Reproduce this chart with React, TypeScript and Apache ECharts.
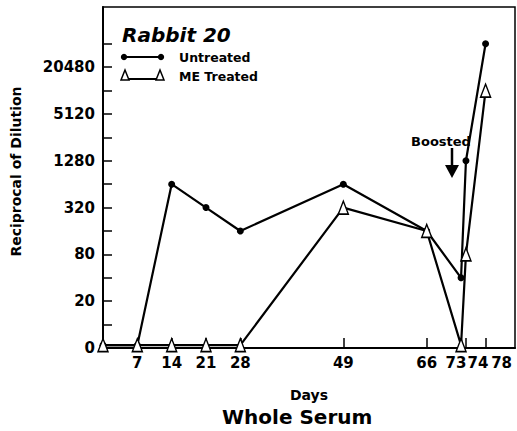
import React, { useEffect, useRef } from "react";
import * as echarts from "echarts";

const days = [0, 7, 14, 21, 28, 49, 66, 73, 74, 78];
const untreated = [0, 0, 640, 320, 160, 640, 160, 40, 1280, 40960];
const meTreated = [0, 0, 0, 0, 0, 320, 160, 0, 80, 10240];
const xTickDays = [7, 14, 21, 28, 49, 66, 73, 74, 78];
const yTickLabels = ["0", "20", "80", "320", "1280", "5120", "20480"];

const FONT = "DejaVu Sans";
// log2 scale relative to 5 (the "0" baseline)
const yPos = (v: number) => (v <= 0 ? 0.12 : Math.log2(v / 5));

export default function App() {
  const ref = useRef<HTMLDivElement>(null);
  useEffect(() => {
    if (!ref.current) return;
    const chart = echarts.init(ref.current, undefined, { renderer: "svg" });
    const labelIdx = yTickLabels.map((_, i) => i * 2);
    const lblFont = { fontFamily: FONT, fontWeight: "bold", fontSize: 15, color: "#000" };
    chart.setOption({
      animation: false,
      backgroundColor: "#fff",
      title: {
        text: "Whole Serum",
        left: 222,
        top: 407,
        padding: 0,
        textStyle: { fontFamily: FONT, fontWeight: "bold", fontSize: 20, color: "#000" },
      },
      grid: {
        left: 103,
        right: 2,
        top: 7,
        bottom: 83,
        show: true,
        borderColor: "#000",
        borderWidth: 1.5,
        backgroundColor: "transparent",
        outerBoundsMode: "none",
      },
      xAxis: {
        type: "value",
        min: 0,
        max: 84,
        name: "Days",
        nameLocation: "middle",
        nameGap: 40,
        nameTextStyle: { fontFamily: FONT, fontWeight: "bold", fontSize: 14, color: "#000" },
        splitLine: { show: false },
        axisLine: { lineStyle: { color: "#000", width: 2 } },
        axisTick: {
          inside: true,
          length: 10,
          customValues: xTickDays,
          lineStyle: { color: "#000", width: 1.5 },
        },
        axisLabel: {
          customValues: xTickDays,
          hideOverlap: false,
          margin: 7,
          ...lblFont,
          formatter: (v: number) =>
            v === 73 ? "{a|73}" : v === 74 ? "{b|74}" : v === 78 ? "{c|78}" : String(v),
          rich: {
            a: { ...lblFont, padding: [0, 10, 0, 0] },
            b: { ...lblFont, padding: [0, 0, 0, 24] },
            c: { ...lblFont, padding: [0, 0, 0, 32] },
          },
        },
      },
      yAxis: {
        type: "value",
        min: 0,
        max: 14.57,
        name: "Reciprocal of Dilution",
        nameLocation: "middle",
        nameRotate: 90,
        nameGap: 80,
        nameTextStyle: { fontFamily: FONT, fontWeight: "bold", fontSize: 14, color: "#000", padding: [0, 0, 0, 12] },
        splitLine: { show: false },
        axisLine: { lineStyle: { color: "#000", width: 2 } },
        axisTick: {
          inside: true,
          length: 9,
          customValues: [1, 2, 3, 4, 5, 6, 7, 8, 9, 10, 11, 12, 13],
          lineStyle: { color: "#000", width: 1.5 },
        },
        axisLabel: {
          customValues: labelIdx,
          margin: 8,
          color: "#000",
          fontFamily: FONT,
          fontWeight: "bold",
          fontSize: 15,
          formatter: (v: number) => {
            const i = Math.round(v / 2);
            return yTickLabels[i] ?? "";
          },
        },
      },
      graphic: [
        {
          type: "text",
          x: 122,
          y: 35,
          style: {
            text: "Rabbit 20",
            fontFamily: FONT,
            fontWeight: "bold",
            fontStyle: "italic",
            fontSize: 20,
            fill: "#000",
            verticalAlign: "middle",
          },
        },
        { type: "line", shape: { x1: 123, y1: 57, x2: 162, y2: 57 }, style: { stroke: "#000", lineWidth: 2 } },
        { type: "circle", shape: { cx: 124, cy: 57, r: 3.2 }, style: { fill: "#000" } },
        { type: "circle", shape: { cx: 161, cy: 57, r: 3.2 }, style: { fill: "#000" } },
        {
          type: "text",
          x: 179,
          y: 57,
          style: { text: "Untreated", fontFamily: FONT, fontWeight: "bold", fontSize: 12.5, fill: "#000", verticalAlign: "middle" },
        },
        { type: "line", shape: { x1: 125, y1: 79, x2: 160, y2: 79 }, style: { stroke: "#000", lineWidth: 2 } },
        {
          type: "polygon",
          shape: { points: [[121, 80], [125, 70], [129, 80]] },
          style: { fill: "#fff", stroke: "#000", lineWidth: 1.5 },
        },
        {
          type: "polygon",
          shape: { points: [[156, 80], [160, 70], [164, 80]] },
          style: { fill: "#fff", stroke: "#000", lineWidth: 1.5 },
        },
        {
          type: "text",
          x: 179,
          y: 76,
          style: { text: "ME Treated", fontFamily: FONT, fontWeight: "bold", fontSize: 12.5, fill: "#000", verticalAlign: "middle" },
        },
        {
          type: "text",
          x: 441,
          y: 141,
          style: {
            text: "Boosted",
            fontFamily: FONT,
            fontWeight: "bold",
            fontSize: 13,
            fill: "#000",
            align: "center",
            verticalAlign: "middle",
          },
        },
        { type: "line", shape: { x1: 452, y1: 148, x2: 452, y2: 167 }, style: { stroke: "#000", lineWidth: 2.5 } },
        {
          type: "polygon",
          shape: { points: [[445, 165], [459, 165], [452, 178]] },
          style: { fill: "#000" },
        },
      ],
      series: [
        {
          name: "Untreated",
          type: "line",
          data: days.map((d, i) => [d, yPos(untreated[i])]),
          symbol: "circle",
          symbolSize: 7,
          itemStyle: { color: "#000" },
          lineStyle: { color: "#000", width: 2.2 },
          z: 3,
        },
        {
          name: "ME Treated",
          type: "line",
          data: days.map((d, i) => [d, yPos(meTreated[i])]),
          symbol: "triangle",
          symbolSize: [10, 13],
          itemStyle: { color: "#fff", borderColor: "#000", borderWidth: 1.5 },
          lineStyle: { color: "#000", width: 2.2 },
          z: 4,
        },
      ],
    });
    return () => chart.dispose();
  }, []);
  return (
    <div
      ref={ref}
      style={{ position: "fixed", left: 0, top: 0, width: 517, height: 431, background: "#fff" }}
    />
  );
}
